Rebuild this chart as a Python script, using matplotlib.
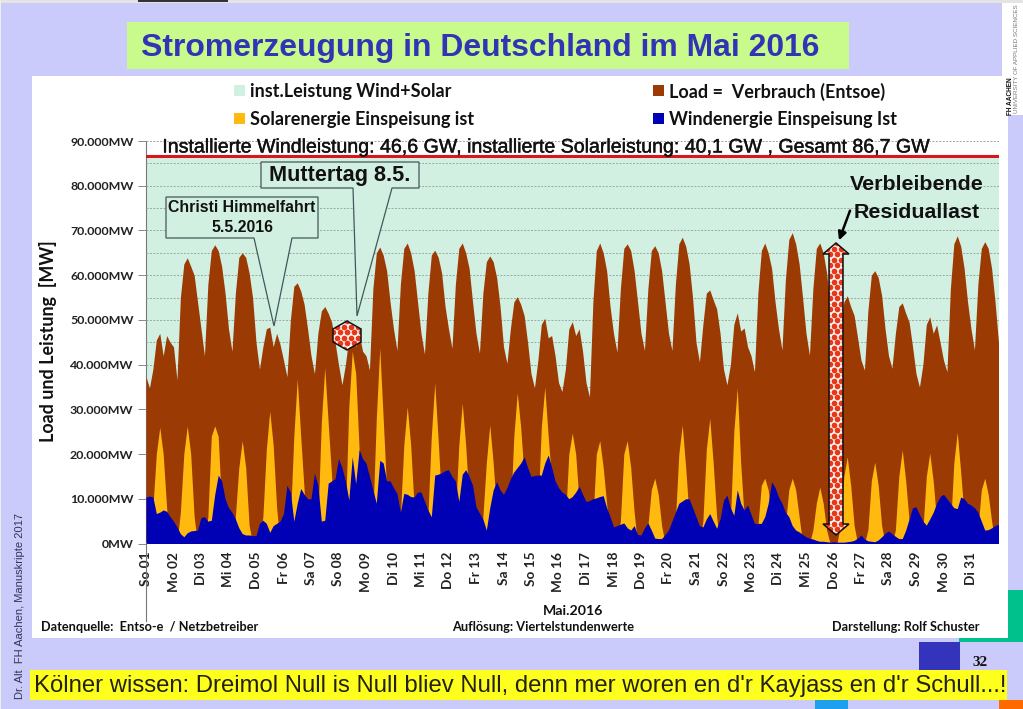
from __future__ import annotations

import matplotlib

matplotlib.use("Agg")
import matplotlib.patheffects as pe
import matplotlib.pyplot as plt
import numpy as np
from matplotlib.patches import Polygon, Rectangle
from matplotlib.ticker import FixedLocator, FuncFormatter

W, H = 1023, 709
OUT_PNG = "out.png"

PERI = "#CBCBFB"
MINT = "#D2F0E2"
BROWN = "#9C3A04"
SOLAR = "#FFB90F"
WIND = "#0000B4"
CALIBRI = ["Lato", "DejaVu Sans"]
ARIAL = ["Liberation Sans", "DejaVu Sans"]

DAY_LABELS = [
    "So 01", "Mo 02", "Di 03", "Mi 04", "Do 05", "Fr 06", "Sa 07", "So 08", "Mo 09", "Di 10", "Mi 11",
    "Do 12", "Fr 13", "Sa 14", "So 15", "Mo 16", "Di 17", "Mi 18", "Do 19", "Fr 20", "Sa 21", "So 22",
    "Mo 23", "Di 24", "Mi 25", "Do 26", "Fr 27", "Sa 28", "So 29", "Mo 30", "Di 31",
]
INSTALLED_GW = 86.7
Y_TICKS = [0, 10, 20, 30, 40, 50, 60, 70, 80, 90]

# GW every three hours, one row per day
LOAD = [
    37.3, 34.8, 39, 45.5, 47, 42, 46.5, 45,
    44, 36.6, 55, 62.5, 63.9, 62, 60, 54,
    48, 42, 58, 65.5, 66.8, 65.5, 62, 56,
    48, 43, 56, 64, 65, 64, 60.5, 55,
    45, 39, 44, 48, 48.4, 44, 47, 44.5,
    41, 37.3, 50, 57.5, 58.3, 56.5, 53.5, 48,
    42, 38, 47, 52, 53, 51.5, 49.5, 45,
    40, 35.5, 40, 46, 47, 44, 47, 43,
    42, 38.8, 57, 65, 66.3, 64.5, 61, 54,
    48, 43.2, 58, 66, 67.2, 65, 61, 54,
    47, 42.4, 56, 64.5, 65.6, 64, 60.5, 53,
    48, 43.7, 58, 66, 67.2, 65, 61.5, 54,
    47, 42.6, 56, 63, 64.3, 63, 59.5, 53,
    44, 40.3, 48, 54, 55.2, 53.5, 51, 45,
    38, 34.8, 41, 49, 50.4, 46, 46.5, 42,
    36, 34, 39, 48, 49.6, 46.5, 48, 43,
    36, 32.8, 54, 65.5, 67.2, 65, 61, 53,
    47, 42.8, 57, 66, 67, 65.5, 61, 54,
    47, 43.2, 57, 65.5, 66.6, 65, 61, 54,
    47, 43.2, 58, 67, 68.5, 66.5, 62.5, 55,
    45, 40.6, 49, 56, 56.7, 54.5, 52.5, 47,
    39, 35.5, 40, 49, 51.6, 47.5, 48.2, 44,
    42, 38.4, 56, 65.5, 67.2, 65, 61.5, 54,
    48, 43.3, 59, 68, 69.5, 67, 62.5, 55,
    47, 42.1, 57, 66, 67.2, 65, 60.5, 53,
    45, 41, 48, 54, 55.4, 53, 51, 46,
    41, 38.8, 52, 60, 61, 59.5, 55.5, 48,
    42, 39.2, 47, 53, 53.8, 51.5, 49.5, 44,
    38, 35, 40, 49, 50.7, 47, 48.9, 45,
    41, 38.4, 57, 67, 68.8, 66.5, 61.5, 54,
    48, 43.3, 58, 66, 67.5, 66, 61.5, 54,
    45,
]
SOLAR_TOP = [
    0, 0, 8, 20, 26, 20, 8, 0,
    0, 0, 7, 20, 26.3, 20, 6, 0,
    0, 0, 6, 24, 26.3, 24, 8, 0,
    0, 0, 6, 17, 23, 17, 4, 0,
    0, 0, 6, 21, 29.6, 22, 8, 0,
    0, 0, 5, 24, 36.8, 24, 12, 0,
    0, 0, 5, 27, 39.3, 27, 15, 0,
    0, 0, 6, 30.6, 43, 38, 21, 0,
    0, 0, 6, 28, 43.7, 28, 12, 0,
    0, 0, 6, 22, 30.6, 22, 8, 0,
    0, 0, 6, 24, 35.9, 23, 9, 0,
    0, 0, 6, 22, 31.4, 22, 9, 0,
    0, 0, 6, 18, 26.5, 18, 7, 0,
    0, 0, 6, 24, 33.7, 26, 15, 0,
    0, 0, 7, 26, 35, 24, 14, 0,
    0, 0, 5, 20, 24.7, 20, 9, 0,
    0, 0, 5, 20, 23, 17, 9, 0,
    0, 0, 5, 20, 23, 17, 7, 0,
    0, 0, 4, 12, 14.6, 11, 4, 0,
    0, 0, 5, 20, 26.5, 17, 6, 0,
    0, 0, 5, 21, 28, 18, 6, 0,
    0, 0, 5, 25, 34.8, 18, 6, 0,
    0, 0, 4, 13, 14.6, 12, 6, 0,
    0, 0, 4, 12, 14.6, 12, 6, 0,
    0, 0, 3, 9, 12.6, 9, 3, 0,
    0, 0, 4, 15, 19.4, 13, 4, 0,
    0, 0, 3, 14, 18.2, 13, 4, 0,
    0, 0, 3, 15, 20.9, 14, 5, 0,
    0, 0, 3, 15, 20.2, 14, 5, 0,
    0, 0, 3, 18, 24.9, 16, 6, 0,
    0, 0, 3, 12, 14.6, 11, 5, 0,
    0,
]
WIND_FEED = [
    10.4, 10.6, 10.4, 6.7, 7, 7.5, 7.2, 6,
    5, 3.7, 2.2, 1.5, 2.4, 2.8, 2.9, 3,
    5.8, 6, 5, 5.2, 11, 15.3, 14, 10,
    8, 7, 5.5, 3.5, 2.2, 1.9, 1.9, 1.8,
    1.8, 4.5, 5.2, 4.5, 2.5, 4, 4.5, 5,
    6.7, 13, 11.5, 5, 9, 12.3, 11, 10,
    10, 15.7, 13, 5, 5.2, 13.5, 14, 14.5,
    19, 17, 14, 9.7, 19.4, 13.4, 21, 19,
    18, 15, 12, 9, 18.6, 18, 14, 14,
    12.5, 11.2, 7, 11.2, 11, 10.5, 10.4, 11.5,
    11.5, 9.5, 7.5, 6, 15.3, 15.5, 15.8, 16.3,
    16.5, 15, 14, 9.4, 15.5, 16.5, 15, 13,
    8.2, 6.8, 5.5, 3, 8, 12, 13.8, 12,
    11, 12.5, 14.5, 16, 17, 18, 19.4, 17,
    15, 15.2, 15.3, 15.3, 18, 19.8, 17, 14,
    12.5, 11.5, 11, 10, 10.5, 11.5, 12.8, 11,
    9.4, 9.6, 10, 10.2, 10.5, 10.7, 8, 6,
    3.7, 4, 4.3, 4.6, 3.5, 3, 4, 2,
    1.9, 3.5, 4.6, 3, 1.2, 1.1, 1.1, 2,
    3, 5, 7, 9, 9.5, 10, 10, 8,
    6, 4, 3.7, 5.5, 6.7, 5, 3.4, 5.5,
    9.7, 10.8, 8, 6.3, 12, 9, 7.5, 8.6,
    6.5, 4.5, 4.5, 4.5, 6, 9, 13.8, 12.5,
    10.4, 9, 7, 6, 4, 3, 2.6, 2,
    1.5, 1.2, 1, 0.7, 0.5, 0.5, 0.4, 0.3,
    0.4, 0.3, 0.3, 0.3, 0.4, 0.5, 0.7, 1.2,
    1.9, 1, 0.6, 0.5, 0.4, 0.8, 1.5, 2.3,
    2.8, 2.2, 1.6, 1.1, 1.1, 3, 5.5, 8,
    8.2, 6.5, 5, 4.1, 5.5, 7, 9, 10.5,
    11, 10, 9, 8, 7.8, 10.4, 10, 9,
    8.6, 8, 7, 5, 3, 3.1, 3.5, 4,
    4.3,
]


def px_axes(fig, left, top, right, bottom, **kwargs):
    return fig.add_axes([left / W, 1 - bottom / H, (right - left) / W, (bottom - top) / H], **kwargs)


def rect(ax, x0, y0, x1, y1, color, **kwargs):
    ax.add_patch(Rectangle((x0, y0), x1 - x0, y1 - y0, facecolor=color, edgecolor="none", **kwargs))


def draw_background(fig):
    ax = px_axes(fig, 0, 0, W, H)
    ax.set_xlim(0, W)
    ax.set_ylim(H, 0)
    ax.axis("off")
    rect(ax, 0, 0, W, H, PERI)
    rect(ax, 0, 0, W, 3, "#E4E4E4")
    rect(ax, 138, 0, 228, 2, "#333333")
    rect(ax, 0, 0, 1, H, "#EEEEEE")
    rect(ax, 1002, 3, W, 115, "white")
    rect(ax, 32, 76, 1008, 638, "white")
    rect(ax, 127, 22, 849, 69, "#C8FA8C")
    rect(ax, 959, 638, W, 642, "#00C08B")
    rect(ax, 1008, 590, W, 642, "#00C08B")
    rect(ax, 919, 642, 960, 670, "#3333BB")
    rect(ax, 30, 670, 1007, 700, "#FFFF1E")
    rect(ax, 815, 700, 848, H, "#1E9FF0")
    rect(ax, 999, 700, W, H, "#FF6A00")
    return ax


def draw_chart(fig):
    ax = px_axes(fig, 146, 141, 998.5, 543.5, facecolor="none")
    x = np.arange(len(LOAD)) / 8
    ax.fill_between([0, 31], 0, INSTALLED_GW, color=MINT, lw=0, zorder=1)
    ax.fill_between(x, 0, LOAD, color=BROWN, lw=0, zorder=3)
    ax.fill_between(x, 0, SOLAR_TOP, color=SOLAR, lw=0, zorder=4)
    ax.fill_between(x, 0, WIND_FEED, color=WIND, lw=0, zorder=5)
    ax.axhline(INSTALLED_GW, color="#D8161C", lw=2.2, zorder=6)

    ax.set_xlim(0, 31)
    ax.set_ylim(0, 90)
    ax.set_yticks(Y_TICKS)
    ax.yaxis.set_major_formatter(FuncFormatter(lambda v, _: f"{int(v)}.000MW" if v else "0MW"))
    ax.yaxis.set_minor_locator(FixedLocator(np.arange(5, 90, 10)))
    ax.grid(axis="y", which="both", color="#9AA8A0", lw=0.7, ls=(0, (2, 1.5)), zorder=2)
    ax.set_axisbelow(False)
    ax.set_xticks(np.arange(31))
    ax.set_xticklabels(DAY_LABELS, rotation=90, family=CALIBRI, fontweight="bold", fontsize=9.8, color="#222222")
    ax.tick_params(axis="x", length=0, pad=6)
    ax.tick_params(axis="y", which="major", length=6, color="#888888", width=0.7, pad=3)
    ax.tick_params(axis="y", which="minor", length=0)
    for label in ax.get_yticklabels():
        label.set_family(CALIBRI)
        label.set_fontweight("bold")
        label.set_fontsize(8.9)
        label.set_color("#222222")
    for name in ["top", "right", "bottom"]:
        ax.spines[name].set_visible(False)
    ax.spines["left"].set_color("#777777")
    ax.spines["left"].set_linewidth(0.8)
    for gridline in ax.get_ygridlines():
        gridline.set_zorder(2)
    return ax


def chequer(ax, pts):
    # outline patch clips a staggered grid of red dots, the picture's fill pattern
    xs, ys = zip(*pts)
    shape = Polygon(pts, closed=True, facecolor="white", edgecolor="none", zorder=8)
    ax.add_patch(shape)
    gx, gy = [], []
    for row, y in enumerate(np.arange(min(ys), max(ys) + 6, 5.5)):
        for x in np.arange(min(xs) + (row % 2) * 3.5, max(xs) + 7, 7):
            gx.append(x)
            gy.append(y)
    dots = ax.scatter(gx, gy, s=17, color="#E8381A", linewidths=0, zorder=8.5)
    dots.set_clip_path(shape)
    ax.add_patch(Polygon(pts, closed=True, facecolor="none", edgecolor="#111111", lw=1.1, zorder=9))


def draw_overlay(fig):
    ax = px_axes(fig, 0, 0, W, H, facecolor="none")
    ax.set_xlim(0, W)
    ax.set_ylim(H, 0)
    ax.axis("off")

    def text(x, y, s, size, family=ARIAL, weight="normal", color="#111111", ha="center", rotation=0, zorder=10):
        return ax.text(x, y, s, fontsize=size, family=family, fontweight=weight, color=color, ha=ha, va="center",
                       rotation=rotation, zorder=zorder)

    text(480, 48, "Stromerzeugung in Deutschland im Mai 2016", 22.95, weight="bold", color="#3333B5")
    top = text(548.5, 147, "Installierte Windleistung: 46,6 GW, installierte Solarleistung: 40,1 GW , Gesamt 86,7 GW",
               14.1, color="#111111")
    top.set_path_effects([pe.withStroke(linewidth=0.3, foreground="#111111")])

    # legend
    for x0, y0, color, label in [
        (234, 85, MINT, "inst.Leistung Wind+Solar"),
        (234, 113, SOLAR, "Solarenergie Einspeisung ist"),
        (653, 85, BROWN, "Load =  Verbrauch (Entsoe)"),
        (653, 113, WIND, "Windenergie Einspeisung Ist"),
    ]:
        rect(ax, x0, y0, x0 + 11, y0 + 11, color)
        text(x0 + 16, y0 + 6.5, label, 13, family=CALIBRI, weight="bold", ha="left")

    text(48, 341, "Load und Leistung  [MW]", 12.9, family=CALIBRI, weight="bold", rotation=90)
    ax.plot([146, 146], [543, 621], color="#777777", lw=0.8)

    text(573, 611, "Mai.2016", 10.2, family=CALIBRI, weight="bold")
    text(41, 627, "Datenquelle:  Entso-e  / Netzbetreiber", 9.2, family=CALIBRI, weight="bold", ha="left")
    text(452, 627, "Auflösung: Viertelstundenwerte", 9.2, family=CALIBRI, weight="bold", ha="left")
    text(832, 627, "Darstellung: Rolf Schuster", 9.2, family=CALIBRI, weight="bold", ha="left")

    # callouts
    christi = [(166, 197), (318, 197), (318, 238), (292, 238), (274, 326), (254, 238), (166, 238)]
    mutter = [(261, 162), (419, 162), (419, 188), (392, 188), (357, 316), (353, 188), (261, 188)]
    for pts in [christi, mutter]:
        ax.add_patch(Polygon(pts, closed=True, facecolor=MINT, edgecolor="#44565A", lw=0.9, zorder=7))
    text(242, 208, "Christi Himmelfahrt", 11.4, weight="bold")
    text(242, 227, "5.5.2016", 11.4, weight="bold")
    text(340, 176, "Muttertag 8.5.", 15.6, weight="bold")

    text(917, 184, "Verbleibende", 15.4, weight="bold")
    text(917, 213, "Residuallast", 15.4, weight="bold")
    ax.annotate("", xy=(838, 243), xytext=(851, 208),
                arrowprops=dict(arrowstyle="-|>", color="black", lw=1.8, mutation_scale=12), zorder=9)

    # chequered hexagon and residual load arrow
    hexagon = [(347, 321), (361, 329), (361, 342), (347, 350), (333, 342), (333, 329)]
    arrow = [(836, 243), (849, 254), (843, 254), (843, 524), (849, 524), (836, 535), (823, 524), (829, 524),
             (829, 254), (823, 254)]
    chequer(ax, hexagon)
    chequer(ax, arrow)

    text(34, 686, "Kölner wissen: Dreimol Null is Null bliev Null, denn mer woren en d'r Kayjass en d'r Schull...!",
         17.2, color="#222211", ha="left")
    text(20, 606, "Dr. Alt  FH Aachen, Manuskripte 2017", 8.0, color="#333355", rotation=90)
    ax.text(980, 663, "32", fontsize=11, family=["Liberation Serif", "DejaVu Serif"], fontweight="bold",
            ha="center", va="center", color="#111111")
    text(1010, 96, "FH AACHEN", 4.7, weight="bold", rotation=90)
    text(1017, 59, "UNIVERSITY OF APPLIED SCIENCES", 4.5, color="#777777", rotation=90)


def main() -> int:
    fig = plt.figure(figsize=(W / 100, H / 100), dpi=100)
    draw_background(fig)
    draw_chart(fig)
    draw_overlay(fig)
    fig.savefig(OUT_PNG, dpi=100)
    plt.close(fig)
    return 0


if __name__ == "__main__":
    raise SystemExit(main())
